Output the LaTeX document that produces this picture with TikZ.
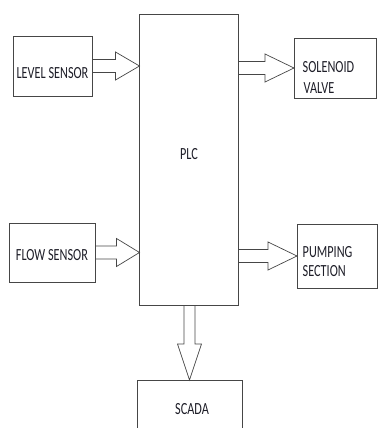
\documentclass[tikz,border=0pt]{standalone}
\usepackage{fontspec}
\usetikzlibrary{calc}
\newfontfamily\lblfont[FakeStretch=0.72]{Carlito}
\definecolor{edge}{RGB}{70,70,70}
\definecolor{ink}{RGB}{30,30,40}

% block arrow, #1 tail, #2 tip, #3 head length
\newcommand{\harrow}[3]{%
  \draw[barrow] let \p1=(#1), \p2=(#2) in
    (\x1,\y2+6.5pt) -- (\x2-#3,\y2+6.5pt) -- (\x2-#3,\y2+14pt) -- (\x2,\y2)
    -- (\x2-#3,\y2-14pt) -- (\x2-#3,\y2-6.5pt) -- (\x1,\y2-6.5pt);}
\newcommand{\varrow}[3]{%
  \draw[barrow] let \p1=(#1), \p2=(#2) in
    (\x2-5.5pt,\y1) -- (\x2-5.5pt,\y2+#3) -- (\x2-12pt,\y2+#3) -- (\x2,\y2)
    -- (\x2+12pt,\y2+#3) -- (\x2+5.5pt,\y2+#3) -- (\x2+5.5pt,\y1);}

\tikzset{
  box/.style={draw=edge, line width=0.7pt, inner sep=0pt, outer sep=0pt},
  barrow/.style={draw=edge, line width=0.7pt, line join=miter},
  lbl/.style={font=\lblfont\fontsize{17}{20}\selectfont, text=ink, inner sep=0pt}
}

\begin{document}
\begin{tikzpicture}[x=1pt, y=-1pt]
  \useasboundingbox (0,0) rectangle (378,428);

  % blocks
  \node[box, minimum width=98.5pt, minimum height=291pt] (plc) at (188.75,159.5) {};
  \node[box, minimum width=79pt, minimum height=60pt] (lvl) at (52.5,66) {};
  \node[box, minimum width=86pt, minimum height=59pt] (flow) at (52,252.5) {};
  \node[box, minimum width=82pt, minimum height=60pt] (sol) at (335,68) {};
  \node[box, minimum width=80pt, minimum height=64pt] (pump) at (337,256) {};
  \node[box, minimum width=105pt, minimum height=60pt] (scada) at (189.5,410) {};

  % texts
  \node[lbl, anchor=base] (plctxt) at (189,159.3) {PLC};
  \node[lbl, anchor=base] (lvltxt) at (52.5,78) {LEVEL SENSOR};
  \node[lbl, anchor=base] (flowtxt) at (52,260) {FLOW SENSOR};
  \node[lbl, anchor=base west] (sol1) at (302.5,72.7) {SOLENOID};
  \node[lbl, anchor=base west] (sol2) at (303.5,93.3) {VALVE};
  \node[lbl, anchor=base west] (pump1) at (302.5,257.7) {PUMPING};
  \node[lbl, anchor=base west] (pump2) at (302.5,276) {SECTION};
  \node[lbl, anchor=base] (scadatxt) at (192,414.3) {SCADA};

  % arrows
  \harrow{lvl.east}{lvl.east -| plc.west}{24pt}
  \harrow{flow.east}{flow.east -| plc.west}{23pt}
  \harrow{sol.west -| plc.east}{sol.west}{29pt}
  \harrow{pump.west -| plc.east}{pump.west}{29pt}
  \varrow{scada.north |- plc.south}{scada.north}{36pt}
\end{tikzpicture}
\end{document}
